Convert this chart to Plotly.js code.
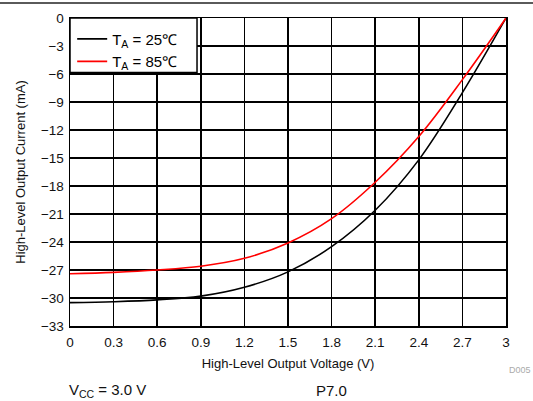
<!DOCTYPE html>
<html>
<head>
<meta charset="utf-8">
<script src="https://cdn.plot.ly/plotly-3.0.1.min.js"></script>
<style>
html,body{margin:0;padding:0;background:#fff;}
#topline{position:absolute;left:0;top:2px;width:533px;height:2px;background:#5a5a5a;z-index:5;}
#chart{width:533px;height:401px;}
</style>
</head>
<body>
<div id="topline"></div>
<div id="chart"></div>
<script>
var voltage = [0, 0.3, 0.6, 0.9, 1.2, 1.5, 1.8, 2.1, 2.4, 2.7, 3.0];
var current25 = [-30.5, -30.4, -30.2, -29.8, -28.85, -27.2, -24.5, -20.6, -15.2, -8.0, 0];
var current85 = [-27.4, -27.25, -27.0, -26.6, -25.75, -24.1, -21.5, -17.6, -12.7, -6.6, 0];
var xTicks = [0, 0.3, 0.6, 0.9, 1.2, 1.5, 1.8, 2.1, 2.4, 2.7, 3];
var xTickText = ['0', '0.3', '0.6', '0.9', '1.2', '1.5', '1.8', '2.1', '2.4', '2.7', '3'];
var yTicks = [0, -3, -6, -9, -12, -15, -18, -21, -24, -27, -30, -33];
var seriesNames = ['T<sub>A</sub> = 25\u2103', 'T<sub>A</sub> = 85\u2103'];

var font = 'Liberation Sans, Arial, sans-serif';
var traces = [
  {x: voltage, y: current25, name: seriesNames[0], mode: 'lines',
   line: {color: '#000000', width: 1.6, shape: 'spline', smoothing: 1}},
  {x: voltage, y: current85, name: seriesNames[1], mode: 'lines',
   line: {color: '#ff0000', width: 1.6, shape: 'spline', smoothing: 1}}
];
var layout = {
  width: 533, height: 401,
  margin: {l: 70, r: 27, t: 18, b: 75},
  paper_bgcolor: '#ffffff', plot_bgcolor: '#ffffff',
  font: {family: font, size: 13, color: '#111'},
  showlegend: true,
  legend: {x: 0.005, y: 0.985, xanchor: 'left', yanchor: 'top', bgcolor: 'rgba(0,0,0,0)',
           borderwidth: 0, font: {family: font, size: 15, color: '#000'},
           tracegroupgap: 0},
  xaxis: {range: [0, 3], tickvals: xTicks, ticktext: xTickText, showgrid: true,
          gridcolor: '#000', gridwidth: 1.5, zeroline: false, showline: true, linecolor: '#000',
          linewidth: 1.5, mirror: true, ticks: '', ticklabelstandoff: 3,
          tickfont: {family: font, size: 13.5, color: '#111'},
          title: {text: 'High-Level Output Voltage (V)', font: {family: font, size: 13, color: '#111'}, standoff: 10}},
  yaxis: {range: [-33, 0], tickvals: yTicks, showgrid: true,
          gridcolor: '#000', gridwidth: 1.5, zeroline: false, showline: true, linecolor: '#000',
          linewidth: 1.5, mirror: true, ticks: '', ticklabelstandoff: 2,
          tickfont: {family: font, size: 13.5, color: '#111'},
          title: {text: 'High-Level Output Current (mA)', font: {family: font, size: 13, color: '#111'}, standoff: 12}},
  shapes: [
    {type: 'rect', xref: 'x', yref: 'y', x0: 0, x1: 0.874, y0: 0, y1: -5.85, layer: 'above',
     fillcolor: '#ffffff', line: {color: '#000', width: 1.5}}
  ],
  annotations: [
    {text: 'D005', xref: 'paper', yref: 'paper', x: 1.003, y: -0.143, xanchor: 'left', yanchor: 'middle',
     showarrow: false, font: {family: font, size: 9, color: '#aaa'}},
    {text: 'V<sub>CC</sub> = 3.0 V', xref: 'paper', yref: 'paper', x: -0.008, y: -0.21, xanchor: 'left', yanchor: 'middle',
     showarrow: false, font: {family: font, size: 15, color: '#111'}},
    {text: 'P7.0', xref: 'paper', yref: 'paper', x: 0.6, y: -0.21, xanchor: 'center', yanchor: 'middle',
     showarrow: false, font: {family: font, size: 15, color: '#111'}}
  ]
};
Plotly.newPlot('chart', traces, layout, {displayModeBar: false, staticPlot: true});
</script>
</body>
</html>
